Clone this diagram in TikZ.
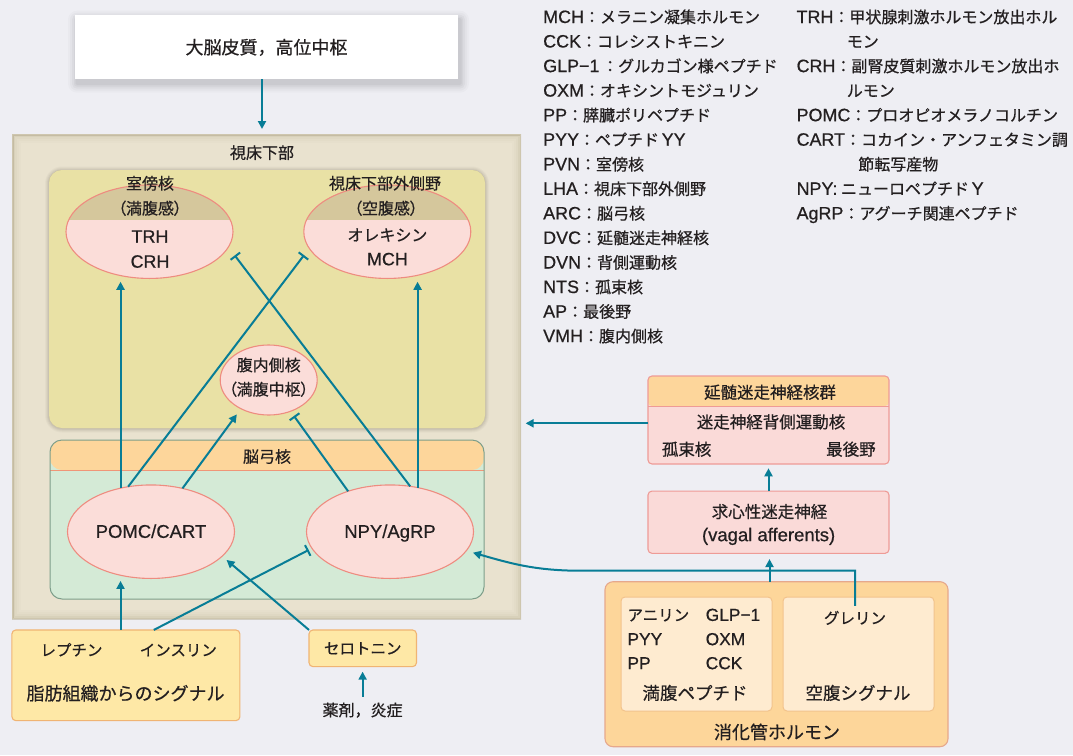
\documentclass[tikz,border=0pt]{standalone}
\usepackage{fontspec}
\setmainfont{Noto Sans CJK JP}[FakeBold=0.6]
\newfontfamily\latinface{Liberation Sans}[Scale=1.12, FakeBold=0.6]
\newfontfamily\propface{Noto Sans CJK JP}[RawFeature=+palt, FakeBold=0.6]
\newcommand{\Lat}[1]{{\latinface #1}}
\newcommand{\jpl}{{\propface （}}
\newcommand{\jpr}{{\propface ）}}
\newcommand{\fsz}[1]{\fontsize{#1}{#1}\selectfont}
\usetikzlibrary{shapes.geometric,arrows.meta}

\pgfdeclarelayer{pagelayer}
\pgfdeclarelayer{shadelayer}
\pgfsetlayers{pagelayer,shadelayer,main}

\definecolor{pagebg}{RGB}{238,238,243}
\definecolor{ink}{RGB}{35,31,32}
\definecolor{linkc}{RGB}{8,125,150}
\definecolor{hypfill}{RGB}{233,226,207}
\definecolor{hypedge}{RGB}{175,165,135}
\definecolor{yelfill}{RGB}{233,225,165}
\definecolor{ellfill}{RGB}{251,221,217}
\definecolor{ellline}{RGB}{238,140,128}
\definecolor{tanfill}{RGB}{213,199,156}
\definecolor{orhead}{RGB}{253,214,155}
\definecolor{greenfill}{RGB}{212,234,214}
\definecolor{greenline}{RGB}{125,158,138}
\definecolor{sepline}{RGB}{240,150,120}
\definecolor{fatfill}{RGB}{254,232,166}
\definecolor{fatline}{RGB}{240,180,115}
\definecolor{dvcfill}{RGB}{250,218,216}
\definecolor{dvcline}{RGB}{238,155,150}
\definecolor{gutfill}{RGB}{253,214,154}
\definecolor{gutline}{RGB}{230,168,140}
\definecolor{gutinner}{RGB}{254,235,208}
\definecolor{gutinline}{RGB}{242,195,140}

\begin{document}
\begin{tikzpicture}[x=1pt, y=-1pt,
  every node/.style={inner sep=0pt, outer sep=0pt, text=ink},
  t155/.style={font=\fsz{15.5}, text height=13.6pt, text depth=1.9pt},
  t16/.style={font=\fsz{16}, text height=14pt, text depth=2pt},
  t165/.style={font=\fsz{16.5}, text height=14.4pt, text depth=2.1pt},
  t175/.style={font=\fsz{17.5}, text height=15.3pt, text depth=2.2pt},
  t18/.style={font=\fsz{18}, text height=15.8pt, text depth=2.2pt},
  cortexbox/.style={rectangle, fill=white},
  hypbox/.style={rectangle, fill=hypfill, path picture={
    \foreach \i/\o in {0.5/0.45,2/0.28,4/0.16,6/0.09,8/0.04}{
      \draw[hypedge, line width=2pt, opacity=\o]
        ([shift={(\i pt,-\i pt)}]path picture bounding box.north west) rectangle
        ([shift={(-\i pt,\i pt)}]path picture bounding box.south east);}}},
  yelbox/.style={rectangle, rounded corners=13pt, fill=yelfill},
  arcbox/.style={rectangle, rounded corners=12pt, fill=greenfill, draw=greenline, line width=1pt,
    path picture={
      \fill[orhead] (path picture bounding box.north west) rectangle ([yshift=-30pt]path picture bounding box.north east);
      \draw[sepline, line width=1pt] ([yshift=-30pt]path picture bounding box.north west) -- ([yshift=-30pt]path picture bounding box.north east);}},
  nucleus/.style={ellipse, fill=ellfill, draw=ellline, line width=1.1pt},
  splitnuc/.style={path picture={
      \fill[tanfill] ([yshift=2pt]path picture bounding box.north west) rectangle ([yshift=#1]path picture bounding box.east);}},
  fatbox/.style={rectangle, rounded corners=4pt, fill=fatfill, draw=fatline, line width=1.1pt},
  dvcbox/.style={rectangle, rounded corners=4pt, fill=dvcfill, draw=dvcline, line width=1.1pt,
    path picture={
      \fill[orhead] (path picture bounding box.north west) rectangle ([yshift=-30pt]path picture bounding box.north east);
      \draw[dvcline, line width=1pt] ([yshift=-30pt]path picture bounding box.north west) -- ([yshift=-30pt]path picture bounding box.north east);}},
  vagbox/.style={rectangle, rounded corners=4pt, fill=dvcfill, draw=dvcline, line width=1.1pt},
  gutbox/.style={rectangle, rounded corners=8pt, fill=gutfill, draw=gutline, line width=1.1pt},
  innerbox/.style={rectangle, rounded corners=4pt, fill=gutinner, draw=gutinline, line width=1pt},
  link/.style={draw=linkc, line width=2pt},
  arr/.style={link, -{Triangle[length=8pt,width=8pt]}},
  inh/.style={link, -{Bar[width=12pt,line width=2pt]}},
]
\begin{pgfonlayer}{pagelayer}
\fill[pagebg] (0,0) rectangle (1073,755);
\end{pgfonlayer}
\useasboundingbox (0,0) rectangle (1073,755);

% ---------- higher centres ----------
\node[cortexbox, t18, minimum width=383pt, minimum height=64pt] (cortex) at (266.5,47.2) {大脳皮質，高位中枢};

% ---------- hypothalamus ----------
\node[hypbox, minimum width=509pt, minimum height=485pt] (hyp) at (266.5,376.5) {};
\node[t16] (hyplbl) at (262,152.7) {視床下部};
\node[yelbox, minimum width=436pt, minimum height=258pt] (yel) at (267,299) {};
\node[arcbox, minimum width=434pt, minimum height=159pt] (arc) at (267,519.5) {};
\node[t16] (arclbl) at (267,456.5) {脳弓核};

% soft shadows under the cortex box and the upper hypothalamic panel
\begin{pgfonlayer}{shadelayer}
\foreach \r/\o in {9/0.02,7/0.025,5/0.03,3/0.035,1.5/0.04}{
  \fill[black, opacity=\o, rounded corners=\r pt]
    ([shift={({(2-\r)*1pt},{(-4.5+\r)*1pt})}]cortex.north west) rectangle
    ([shift={({(2+\r)*1pt},{(-4.5-\r)*1pt})}]cortex.south east);}
\end{pgfonlayer}
\begin{scope}
\foreach \r/\o in {4/0.03,3/0.04,2/0.05,1/0.06}{
  \fill[black!70!hypedge, opacity=\o, rounded corners={(13+\r)*1pt}]
    ([shift={({-\r*1pt},{(-0.5+\r)*1pt})}]yel.north west) rectangle
    ([shift={({\r*1pt},{(-0.5-\r)*1pt})}]yel.south east);}
\node[yelbox, minimum width=436pt, minimum height=258pt] at (yel) {};
\end{scope}

% paraventricular nucleus
\node[nucleus, splitnuc=11.7pt, minimum width=167pt, minimum height=93.5pt] (pvn) at (149.5,231.7) {};
\node[t16] (pvnt) at (150,183.3) {室傍核};
\node[t16] (pvnp) at (150,208.3) {\jpl 満腹感\jpr};
\node[t16] (trh) at (150,236.7) {\Lat{TRH}};
\node[t16] (crh) at (150,261.7) {\Lat{CRH}};

% lateral hypothalamic area
\node[nucleus, splitnuc=11.7pt, minimum width=167pt, minimum height=93.5pt] (lha) at (387.3,231.7) {};
\node[t16] (lhat) at (385,183.3) {視床下部外側野};
\node[t16] (lhap) at (386,208.3) {\jpl 空腹感\jpr};
\node[t16] (orx) at (387.4,235) {オレキシン};
\node[t16] (mch) at (387.4,259.3) {\Lat{MCH}};

% ventromedial nucleus
\node[nucleus, minimum width=97pt, minimum height=70pt] (vmh) at (268.7,380) {};
\node[t16] (vmht) at (268.7,365) {腹内側核};
\node[t16] (vmhp) at (268.7,389.3) {\jpl 満腹中枢\jpr};

% arcuate nucleus populations
\node[nucleus, t165, minimum width=167pt, minimum height=93.5pt] (pomc) at (151,531.7) {\Lat{POMC/CART}};
\node[nucleus, t165, minimum width=167pt, minimum height=93.5pt] (npy) at (390,531.7) {\Lat{NPY/AgRP}};

% ---------- peripheral signals ----------
\node[fatbox, minimum width=228pt, minimum height=90.7pt] (fat) at (125.9,675.3) {};
\node[t155] (lep) at (71.5,650) {レプチン};
\node[t155] (ins) at (178.3,650) {インスリン};
\node[t18] (fatt) at (125.6,693.3) {脂肪組織からのシグナル};

\node[fatbox, t155, minimum width=107.5pt, minimum height=36.7pt] (ser) at (362.75,648.3) {セロトニン};
\node[t16] (drug) at (362.6,710) {薬剤，炎症};

% ---------- brainstem ----------
\node[dvcbox, minimum width=241pt, minimum height=88pt] (dvc) at (768.5,420) {};
\node[t165] (dvct) at (770,392.3) {延髄迷走神経核群};
\node[t165] (dvn) at (771,422) {迷走神経背側運動核};
\node[t165] (nts) at (686.6,449.3) {孤束核};
\node[t165] (ap) at (850.9,449.3) {最後野};

\node[vagbox, minimum width=241pt, minimum height=62.3pt] (vag) at (768.5,522.2) {};
\node[t165] (vagt) at (769.5,511.7) {求心性迷走神経};
\node[t165] (vage) at (768.6,535) {\Lat{(vagal afferents)}};

% ---------- gut hormones ----------
\node[gutbox, minimum width=343pt, minimum height=165pt] (gut) at (776.5,664.2) {};
\node[innerbox, minimum width=151pt, minimum height=114pt] (sat) at (696.5,654) {};
\node[innerbox, minimum width=151pt, minimum height=114pt] (hun) at (858.5,654) {};
\node[t155, anchor=west] (amy) at (627.5,615) {アニリン};
\node[t155, anchor=west] (glp) at (705.7,615) {\Lat{GLP−1}};
\node[t155, anchor=west] (pyy) at (627.5,639.3) {\Lat{PYY}};
\node[t155, anchor=west] (oxm) at (705.7,639.3) {\Lat{OXM}};
\node[t155, anchor=west] (pp) at (627.5,663.3) {\Lat{PP}};
\node[t155, anchor=west] (cck) at (705.7,663.3) {\Lat{CCK}};
\node[t175] (satt) at (695,693) {満腹ペプチド};
\node[t155] (ghr) at (855,618) {グレリン};
\node[t175] (hunt) at (858,693) {空腹シグナル};
\node[t18] (gutt) at (777,732) {消化管ホルモン};

% ---------- abbreviations ----------
\node[t16, anchor=west] (lg1) at (543.2,17) {\Lat{MCH}：メラニン凝集ホルモン};
\node[t16, anchor=west] (lg2) at (543.2,41.5) {\Lat{CCK}：コレシストキニン};
\node[t16, anchor=west] (lg3) at (543.2,66.1) {\Lat{GLP−1}\,：グルカゴン様ペプチド};
\node[t16, anchor=west] (lg4) at (543.2,90.6) {\Lat{OXM}：オキシントモジュリン};
\node[t16, anchor=west] (lg5) at (543.2,115.2) {\Lat{PP}：膵臓ポリペプチド};
\node[t16, anchor=west] (lg6) at (543.2,139.7) {\Lat{PYY}：ペプチド\,\Lat{YY}};
\node[t16, anchor=west] (lg7) at (543.2,164.3) {\Lat{PVN}：室傍核};
\node[t16, anchor=west] (lg8) at (543.2,188.8) {\Lat{LHA}：視床下部外側野};
\node[t16, anchor=west] (lg9) at (543.2,213.4) {\Lat{ARC}：脳弓核};
\node[t16, anchor=west] (lg10) at (543.2,237.9) {\Lat{DVC}：延髄迷走神経核};
\node[t16, anchor=west] (lg11) at (543.2,262.5) {\Lat{DVN}：背側運動核};
\node[t16, anchor=west] (lg12) at (543.2,287) {\Lat{NTS}：孤束核};
\node[t16, anchor=west] (lg13) at (543.2,311.6) {\Lat{AP}：最後野};
\node[t16, anchor=west] (lg14) at (543.2,336.1) {\Lat{VMH}：腹内側核};

\node[t16, anchor=west] (lr1) at (796.6,17) {\Lat{TRH}：甲状腺刺激ホルモン放出ホル};
\node[t16, anchor=west] (lr2) at (846.8,41.5) {モン};
\node[t16, anchor=west] (lr3) at (796.6,66.1) {\Lat{CRH}：副腎皮質刺激ホルモン放出ホ};
\node[t16, anchor=west] (lr4) at (846.8,90.6) {ルモン};
\node[t16, anchor=west] (lr5) at (796.6,115.2) {\Lat{POMC}：プロオピオメラノコルチン};
\node[t16, anchor=west] (lr6) at (796.6,139.7) {\Lat{CART}：コカイン・アンフェタミン調};
\node[t16, anchor=west] (lr7) at (858.3,164.3) {節転写産物};
\node[t16, anchor=west] (lr8) at (796.6,188.8) {\Lat{NPY:} ニューロペプチド\,\Lat{Y}};
\node[t16, anchor=west] (lr9) at (796.6,213.4) {\Lat{AgRP}：アグーチ関連ペプチド};

% ---------- connections ----------
\draw[arr, shorten >=5pt] ([xshift=-4.5pt]cortex.south) -- ([xshift=-4.5pt]cortex.south |- hyp.north);

\draw[arr, shorten >=3.3pt] (pomc.125) -- (pomc.125 |- pvn.south);
\draw[arr, shorten >=3.3pt] (npy.58) -- (npy.58 |- lha.south);
\draw[inh, shorten >=8.6pt] (pomc.117) -- (lha.192);
\draw[inh, shorten >=10.5pt] (npy.66) -- (pvn.349);
\draw[arr, shorten >=7pt] (pomc.54) -- (vmh.226);
\draw[inh, shorten >=5.8pt] (npy.136) -- (vmh.305);

\draw[arr, shorten >=5.7pt] (pomc.235 |- fat.north) -- (pomc.235);
\draw[inh, shorten >=3.7pt] ([xshift=27.9pt]fat.north) -- (npy.192);
\draw[arr, shorten >=5.8pt] (ser.north west) -- (pomc.341);
\draw[arr, shorten <=5.3pt, shorten >=5pt] (drug.north) -- (drug.north |- ser.south);

\draw[arr, shorten >=4.6pt] ([yshift=-3.3pt]dvc.west) -- ([yshift=-3.3pt]dvc.west -| hyp.east);
\draw[arr, shorten >=4.3pt] (vag.north) -- (dvc.south);
\draw[arr, shorten >=5.7pt] ([xshift=-7pt]gut.north) -- ([xshift=-7pt]gut.north |- vag.south);
\coordinate (bend) at (580,570.7);
\draw[arr, shorten <=4.3pt, shorten >=7pt] (ghr.north) |- (bend) to[out=180,in=-16] (npy.346);
\end{tikzpicture}
\end{document}
